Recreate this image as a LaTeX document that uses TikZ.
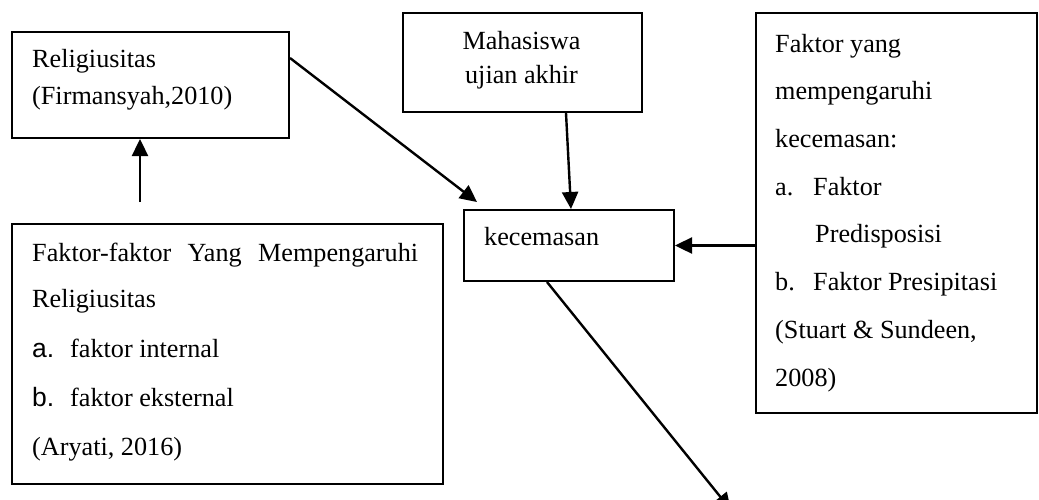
\documentclass[tikz,border=0pt]{standalone}
\usepackage{fontspec}
\setmainfont{Liberation Serif}
\newfontfamily\sansA{Liberation Sans}
\usetikzlibrary{arrows.meta,calc}
\begin{document}
\begin{tikzpicture}[x=1pt,y=-1pt,
  box/.style={draw,line width=2pt,anchor=north west,inner sep=0},
  txt/.style={anchor=base west,inner sep=0,align=left},
  arr/.style={line width=2.4pt,-{Triangle[width=16pt,length=17pt]}}]
\useasboundingbox (0,0) rectangle (1039,499);
\clip (0,0) rectangle (1039,499);
% boxes
\node[box,minimum width=277pt,minimum height=106pt] (rel) at (11,31) {};
\node[box,minimum width=431pt,minimum height=260pt] (ff) at (11,223) {};
\node[box,minimum width=239pt,minimum height=99pt] (mhs) at (402,12) {};
\node[box,minimum width=210pt,minimum height=71pt] (kec) at (463,209) {};
\node[box,minimum width=281pt,minimum height=400pt] (fak) at (755,12) {};
% texts (anchored at the baseline of their last line)
\node[txt,font=\fontsize{26.2}{37}\selectfont] (relt) at (32,104) {Religiusitas\\(Firmansyah,2010)};
\node[txt,font=\fontsize{26.2}{49}\selectfont] (fft) at (32,455)
  {\hbox to 386pt{Faktor-faktor\hfill Yang\hfill Mempengaruhi}\\[-3pt]
   Religiusitas\\[1pt]
   \makebox[38pt][l]{\sansA\fontsize{26.5}{49}\selectfont a.}faktor internal\\
   \makebox[38pt][l]{\sansA\fontsize{26.5}{49}\selectfont b.}faktor eksternal\\
   (Aryati, 2016)};
\node[anchor=base,inner sep=0,align=center,font=\fontsize{26.2}{34}\selectfont] (mhst) at (521.5,83.5) {Mahasiswa\\ujian akhir};
\node[txt,font=\fontsize{26.2}{34}\selectfont] (kect) at (484,245) {kecemasan};
\node[txt,font=\fontsize{26.2}{47.7}\selectfont] (fakt) at (775,386)
  {Faktor yang\\mempengaruhi\\kecemasan:\\
   \makebox[38pt][l]{a.}Faktor\\
   \hspace*{40pt}Predisposisi\\
   \makebox[38pt][l]{b.}Faktor Presipitasi\\
   (Stuart \& Sundeen,\\2008)};
% connectors
\coordinate (c1) at (140,202);
\coordinate (c2) at (477,202);
\coordinate (c3) at (731,510);
\draw[arr] (c1) -- (c1 |- rel.south);
\draw[arr] ($(rel.north east)+(0,27)$) -- (c2);
\draw[arr] ($(mhs.south)+(43.5,0)$) -- ($(kec.north)+(2,0)$);
\draw[arr] (fak.west |- kec.east) -- (kec.east);
\draw[arr] ($(kec.south west)+(84,0)$) -- (c3);
\end{tikzpicture}
\end{document}
